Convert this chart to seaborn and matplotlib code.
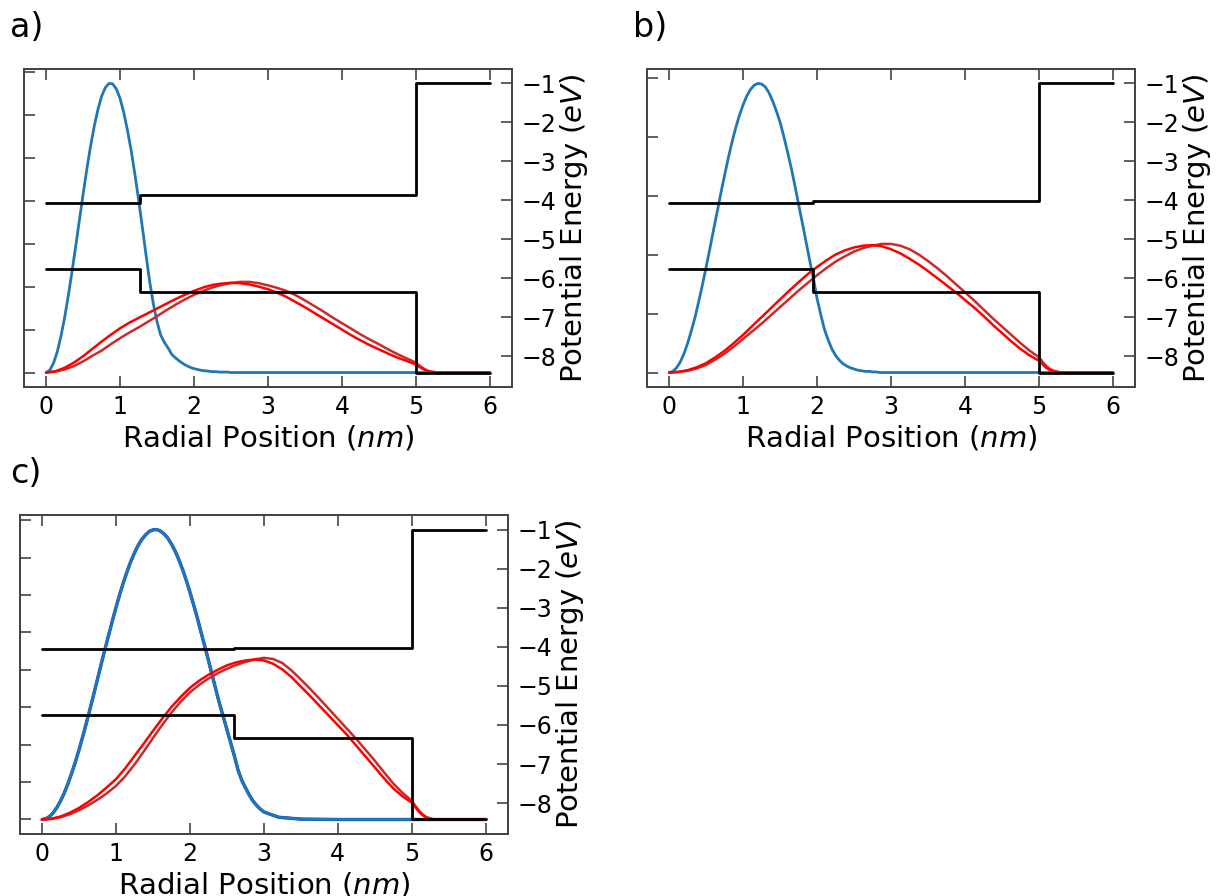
import matplotlib
matplotlib.use('Agg')
import matplotlib.pyplot as plt
from matplotlib.ticker import MultipleLocator
import seaborn as sns

# x grid for the electron (blue) curves, nm
blue_x = [0.00, 0.05, 0.10, 0.15, 0.20, 0.25, 0.30, 0.35, 0.40, 0.45,
          0.50, 0.55, 0.60, 0.65, 0.70, 0.75, 0.80, 0.85, 0.90, 0.95,
          1.00, 1.05, 1.10, 1.15, 1.20, 1.25, 1.30, 1.35, 1.40, 1.45,
          1.50, 1.55, 1.60, 1.65, 1.70, 1.75, 1.80, 1.85, 1.90, 1.95,
          2.00, 2.05, 2.10, 2.15, 2.20, 2.25, 2.30, 2.35, 2.40, 2.45,
          2.50, 2.55, 2.60, 2.65, 2.70, 2.75, 2.80, 2.85, 2.90, 2.95,
          3.00, 3.20, 3.50, 4.00, 6.00]

# x grid for the hole (red) curves, nm
red_x = [0, 0.125, 0.25, 0.375, 0.5, 0.625, 0.75, 0.875,
         1.0, 1.125, 1.25, 1.375, 1.5, 1.625, 1.75, 1.875,
         2.0, 2.125, 2.25, 2.375, 2.5, 2.625, 2.75, 2.875,
         3.0, 3.125, 3.25, 3.375, 3.5, 3.625, 3.75, 3.875,
         4.0, 4.125, 4.25, 4.375, 4.5, 4.625, 4.75, 4.875,
         5.0, 5.05, 5.1, 5.15, 5.2, 5.3, 6.0]

# panel a
blue_a = [0, 0.0055, 0.022, 0.048, 0.084, 0.128, 0.179, 0.235, 0.294, 0.355,
          0.415, 0.473, 0.526, 0.573, 0.612, 0.643, 0.663, 0.673, 0.672, 0.66,
          0.638, 0.605, 0.564, 0.517, 0.462, 0.403, 0.34, 0.275, 0.212, 0.16,
          0.118, 0.087, 0.07, 0.057, 0.042, 0.034, 0.027, 0.021, 0.016, 0.012,
          0.009, 0.007, 0.005, 0.004, 0.003, 0.002, 0.002, 0.001, 0.001, 0.001,
          0, 0, 0, 0, 0, 0, 0, 0, 0, 0,
          0, 0, 0, 0, 0]
red1_a = [0, 0.003, 0.011, 0.023, 0.038, 0.055, 0.072, 0.088,
          0.103, 0.116, 0.127, 0.138, 0.149, 0.16, 0.171, 0.181,
          0.19, 0.198, 0.204, 0.207, 0.209, 0.208, 0.205, 0.2,
          0.194, 0.186, 0.176, 0.164, 0.152, 0.139, 0.126, 0.113,
          0.1, 0.087, 0.075, 0.064, 0.054, 0.044, 0.035, 0.027,
          0.019, 0.013, 0.008, 0.004, 0.002, 0, 0]
red2_a = [0, 0.002, 0.007, 0.015, 0.026, 0.039, 0.051, 0.066,
          0.08, 0.093, 0.105, 0.118, 0.131, 0.145, 0.158, 0.17,
          0.181, 0.19, 0.198, 0.204, 0.208, 0.211, 0.211, 0.208,
          0.203, 0.197, 0.19, 0.18, 0.168, 0.155, 0.142, 0.128,
          0.115, 0.102, 0.089, 0.077, 0.066, 0.054, 0.043, 0.033,
          0.023, 0.016, 0.01, 0.005, 0.002, 0, 0]

# panel b
blue_b = [0, 0.002, 0.008, 0.018, 0.032, 0.05, 0.071, 0.094, 0.121, 0.149,
          0.179, 0.21, 0.242, 0.273, 0.305, 0.335, 0.364, 0.391, 0.415, 0.436,
          0.454, 0.469, 0.48, 0.487, 0.49, 0.489, 0.484, 0.474, 0.46, 0.443,
          0.424, 0.4, 0.374, 0.347, 0.317, 0.285, 0.254, 0.222, 0.19, 0.16,
          0.125, 0.098, 0.073, 0.055, 0.04, 0.029, 0.021, 0.015, 0.011, 0.008,
          0.006, 0.004, 0.003, 0.002, 0.002, 0.001, 0.001, 0, 0, 0,
          0, 0, 0, 0, 0]
red1_b = [0, 0.001, 0.004, 0.009, 0.016, 0.026, 0.037, 0.05,
          0.064, 0.079, 0.094, 0.109, 0.124, 0.139, 0.153, 0.167,
          0.179, 0.19, 0.2, 0.207, 0.212, 0.215, 0.216, 0.214,
          0.209, 0.202, 0.193, 0.183, 0.172, 0.16, 0.148, 0.136,
          0.123, 0.11, 0.096, 0.081, 0.067, 0.053, 0.04, 0.029,
          0.02, 0.014, 0.008, 0.004, 0.002, 0, 0]
red2_b = [0, 0.001, 0.003, 0.007, 0.013, 0.022, 0.032, 0.044,
          0.057, 0.07, 0.083, 0.097, 0.111, 0.125, 0.139, 0.152,
          0.165, 0.177, 0.188, 0.197, 0.205, 0.211, 0.215, 0.218,
          0.218, 0.215, 0.209, 0.2, 0.189, 0.177, 0.164, 0.15,
          0.136, 0.122, 0.107, 0.092, 0.078, 0.064, 0.05, 0.037,
          0.026, 0.018, 0.011, 0.006, 0.003, 0, 0]

# panel c
blue_c = [0, 0.002, 0.008, 0.018, 0.032, 0.05, 0.071, 0.096, 0.124, 0.154,
          0.187, 0.222, 0.259, 0.297, 0.336, 0.376, 0.416, 0.455, 0.493, 0.531,
          0.567, 0.602, 0.634, 0.663, 0.69, 0.713, 0.733, 0.749, 0.761, 0.77,
          0.774, 0.775, 0.771, 0.763, 0.752, 0.736, 0.717, 0.694, 0.668, 0.639,
          0.607, 0.573, 0.538, 0.5, 0.463, 0.425, 0.386, 0.347, 0.309, 0.275,
          0.24, 0.205, 0.17, 0.132, 0.105, 0.085, 0.066, 0.05, 0.038, 0.028,
          0.02, 0.006, 0.001, 0, 0]
red1_c = [0, 0.002, 0.008, 0.018, 0.031, 0.047, 0.065, 0.086,
          0.108, 0.137, 0.17, 0.203, 0.237, 0.27, 0.301, 0.328,
          0.352, 0.371, 0.387, 0.4, 0.412, 0.42, 0.425, 0.4275,
          0.425, 0.416, 0.401, 0.38, 0.355, 0.33, 0.304, 0.278,
          0.252, 0.226, 0.197, 0.168, 0.139, 0.11, 0.083, 0.062,
          0.045, 0.032, 0.02, 0.011, 0.005, 0, 0]
red2_c = [0, 0.0015, 0.006, 0.014, 0.025, 0.038, 0.053, 0.07,
          0.09, 0.116, 0.147, 0.182, 0.218, 0.253, 0.286, 0.315,
          0.34, 0.36, 0.377, 0.391, 0.403, 0.413, 0.421, 0.428,
          0.432, 0.429, 0.418, 0.398, 0.374, 0.349, 0.323, 0.296,
          0.269, 0.242, 0.215, 0.186, 0.157, 0.126, 0.096, 0.071,
          0.05, 0.036, 0.023, 0.013, 0.006, 0, 0]

# band edges (eV): core, shell, outside (last value repeated for the step end)
cb_a = [-4.07, -3.86, -1.0, -1.0]
vb_a = [-5.76, -6.35, -8.42, -8.42]
cb_b = [-4.07, -4.03, -1.0, -1.0]
vb_b = [-5.76, -6.35, -8.42, -8.42]
cb_c = [-4.05, -4.03, -1.0, -1.0]
vb_c = [-5.75, -6.34, -8.42, -8.42]
core_a, core_b, core_c = 1.27, 1.95, 2.6
shell_edge = 5.0
x_end = 6.0

sns.set_theme(style='ticks')
plt.rcParams['font.family'] = ['DejaVu Sans']
plt.rcParams['mathtext.fontset'] = 'dejavusans'
plt.rcParams['axes.edgecolor'] = '#444444'
plt.rcParams['axes.linewidth'] = 1.3
plt.rcParams['text.color'] = 'black'
plt.rcParams['axes.labelcolor'] = 'black'
plt.rcParams['xtick.color'] = 'black'
plt.rcParams['ytick.color'] = 'black'

fig = plt.figure(figsize=(12.16, 8.96), dpi=100)


def draw_panel(rect, label, label_pos, blue, red1, red2, cb, vb, core, blue_under=False):
    ax = fig.add_axes(rect)
    if blue_under:
        sns.lineplot(x=blue_x, y=blue, ax=ax, color='#1030e0', lw=2.4)
    sns.lineplot(x=blue_x, y=blue, ax=ax, color='#1f77b4', lw=2)
    sns.lineplot(x=red_x, y=red2, ax=ax, color='#cc2a2a', lw=1.8)
    sns.lineplot(x=red_x, y=red1, ax=ax, color='#ff0000', lw=1.8)

    # potential on the right axis
    ax2 = ax.twinx()
    band_x = [0, core, shell_edge, x_end]
    sns.lineplot(x=band_x, y=cb, ax=ax2, color='black', lw=2, drawstyle='steps-post')
    sns.lineplot(x=band_x, y=vb, ax=ax2, color='black', lw=2, drawstyle='steps-post')

    ax.xaxis.set_major_locator(MultipleLocator(1))
    ax.yaxis.set_major_locator(MultipleLocator(0.1))
    ax2.yaxis.set_major_locator(MultipleLocator(1))
    ax.tick_params(direction='in', length=8, width=1.2, color='#444444',
                   top=True, bottom=True, left=True, right=False,
                   labelleft=False, labelsize=17, pad=6)
    ax2.tick_params(axis='y', direction='in', length=8, width=1.2, color='#444444',
                    labelsize=17, pad=7)
    ax.set_xlabel('Radial Position ($nm$)', fontsize=21, labelpad=3)
    ax2.set_ylabel('Potential Energy ($eV$)', fontsize=21, labelpad=1)
    fig.text(label_pos[0], label_pos[1], label, fontsize=24, va='center')


draw_panel([0.0197, 0.5681, 0.4013, 0.3549], 'a)', (0.008, 0.969),
           blue_a, red1_a, red2_a, cb_a, vb_a, core_a)
draw_panel([0.5321, 0.5681, 0.4013, 0.3549], 'b)', (0.5206, 0.969),
           blue_b, red1_b, red2_b, cb_b, vb_b, core_b)
draw_panel([0.0164, 0.0692, 0.4013, 0.356], 'c)', (0.008, 0.471),
           blue_c, red1_c, red2_c, cb_c, vb_c, core_c, blue_under=True)

fig.savefig('out.png', dpi=100)
